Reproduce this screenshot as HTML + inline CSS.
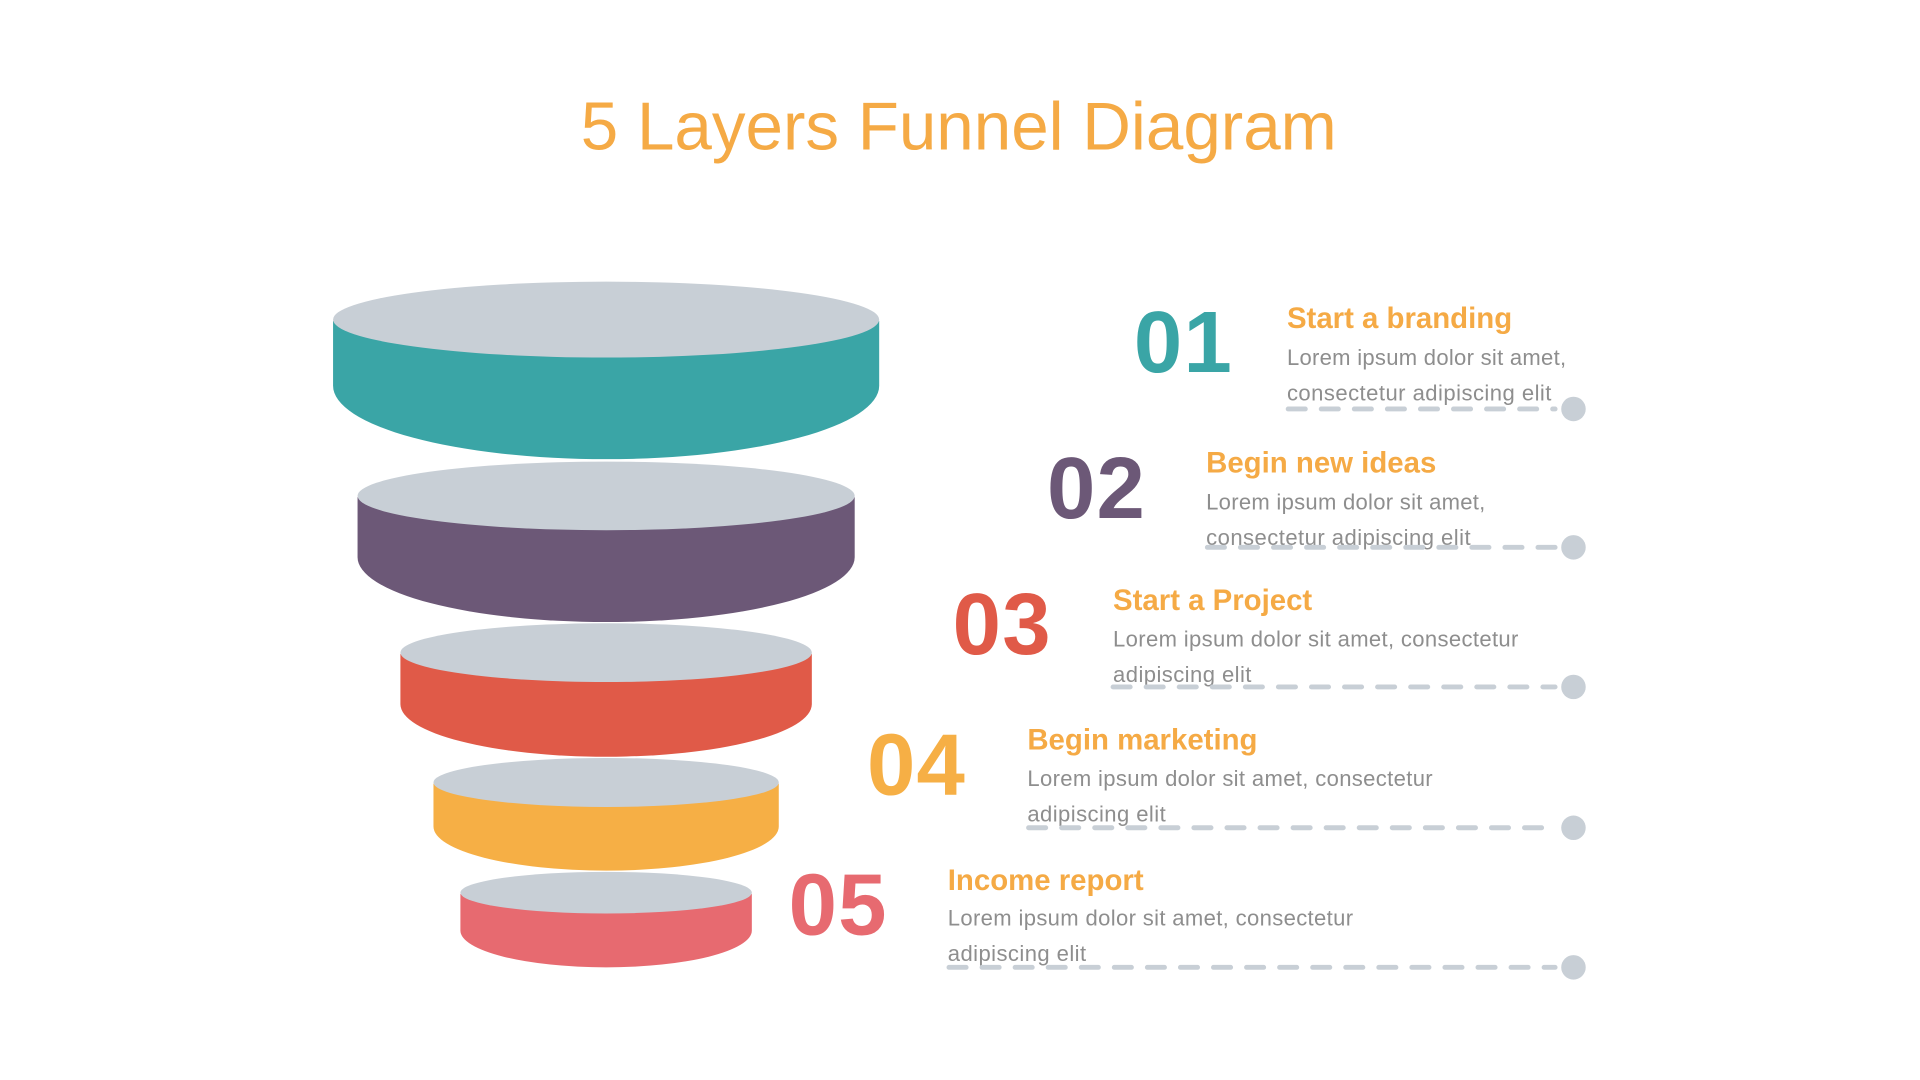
<!DOCTYPE html>
<html><head><meta charset="utf-8"><style>
html,body{margin:0;padding:0;background:#fff;width:1920px;height:1080px;overflow:hidden}
svg{display:block}
text{font-family:"Liberation Sans",sans-serif}
.n{font-weight:bold;font-size:71px;letter-spacing:1px}
.h{font-weight:bold;font-size:24px;fill:#F5AA45}
.b{font-size:18px;fill:#8e8e8e}
.d{stroke:#C8CFD6;stroke-width:4;stroke-dasharray:14 13;stroke-linecap:round;fill:none}
</style></head><body>
<svg width="1920" height="1080" viewBox="0 0 1568 882" xmlns="http://www.w3.org/2000/svg">
<text x="783" y="122" text-anchor="middle" font-size="55" fill="#F5AA45">5 Layers Funnel Diagram</text>

<g>
<path d="M272 262 L272 315 A223 60 0 0 0 718 315 L718 262 Z" fill="#3AA5A6"/>
<ellipse cx="495" cy="261" rx="223" ry="31" fill="#C8CFD6"/>
<path d="M292 406 L292 455 A203 53 0 0 0 698 455 L698 406 Z" fill="#6C5877"/>
<ellipse cx="495" cy="405" rx="203" ry="28" fill="#C8CFD6"/>
<path d="M327 534 L327 575 A168 43 0 0 0 663 575 L663 534 Z" fill="#E05A48"/>
<ellipse cx="495" cy="533" rx="168" ry="24" fill="#C8CFD6"/>
<path d="M354 640 L354 675 A141 36 0 0 0 636 675 L636 640 Z" fill="#F6AF45"/>
<ellipse cx="495" cy="639" rx="141" ry="20" fill="#C8CFD6"/>
<path d="M376 730 L376 760 A119 30 0 0 0 614 760 L614 730 Z" fill="#E76A70"/>
<ellipse cx="495" cy="729" rx="119" ry="17" fill="#C8CFD6"/>
</g>

<text class="n" x="926" y="304" fill="#3AA5A6">01</text>
<text class="h" x="1051" y="268">Start a branding</text>
<text class="b" x="1051" y="298" textLength="228">Lorem ipsum dolor sit amet,</text>
<text class="b" x="1051" y="327" textLength="216">consectetur adipiscing elit</text>
<line class="d" x1="1052" y1="334" x2="1270" y2="334"/>
<circle cx="1285" cy="334" r="10" fill="#C8CFD6"/>

<text class="n" x="855" y="423" fill="#6C5877">02</text>
<text class="h" x="985" y="386">Begin new ideas</text>
<text class="b" x="985" y="416" textLength="228">Lorem ipsum dolor sit amet,</text>
<text class="b" x="985" y="445" textLength="216">consectetur adipiscing elit</text>
<line class="d" x1="986" y1="447" x2="1270" y2="447"/>
<circle cx="1285" cy="447" r="10" fill="#C8CFD6"/>

<text class="n" x="778" y="534" fill="#E05A48">03</text>
<text class="h" x="909" y="498">Start a Project</text>
<text class="b" x="909" y="528" textLength="331">Lorem ipsum dolor sit amet, consectetur</text>
<text class="b" x="909" y="557" textLength="113">adipiscing elit</text>
<line class="d" x1="909" y1="561" x2="1270" y2="561"/>
<circle cx="1285" cy="561" r="10" fill="#C8CFD6"/>

<text class="n" x="708" y="649" fill="#F6AF45">04</text>
<text class="h" x="839" y="612">Begin marketing</text>
<text class="b" x="839" y="642" textLength="331">Lorem ipsum dolor sit amet, consectetur</text>
<text class="b" x="839" y="671" textLength="113">adipiscing elit</text>
<line class="d" x1="840" y1="676" x2="1270" y2="676"/>
<circle cx="1285" cy="676" r="10" fill="#C8CFD6"/>

<text class="n" x="644" y="763" fill="#E76A70">05</text>
<text class="h" x="774" y="727">Income report</text>
<text class="b" x="774" y="756" textLength="331">Lorem ipsum dolor sit amet, consectetur</text>
<text class="b" x="774" y="785" textLength="113">adipiscing elit</text>
<line class="d" x1="775" y1="790" x2="1270" y2="790"/>
<circle cx="1285" cy="790" r="10" fill="#C8CFD6"/>
</svg>
</body></html>
